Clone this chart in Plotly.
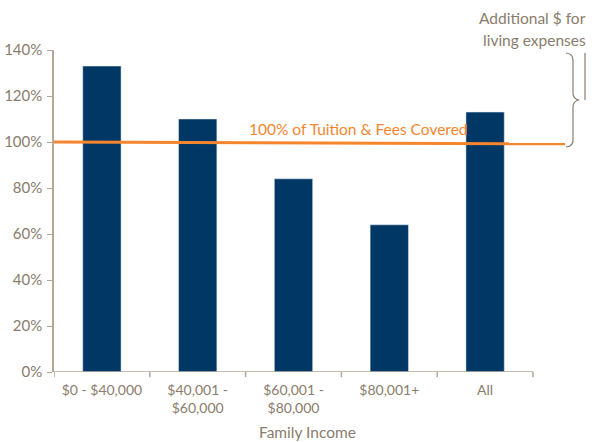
import plotly.graph_objects as go

categories = ["$0 - $40,000", "$40,001 -<br>$60,000", "$60,001 -<br>$80,000", "$80,001+", "All"]
coverage_pct = [133, 110, 84, 64, 113]
threshold_x = [-0.5, 4.834]
threshold_y = [100, 99.2]
y_ticks = [0, 20, 40, 60, 80, 100, 120, 140]
y_tick_labels = [f"{v}%" for v in y_ticks]

W, H = 596, 442
L, R, T, B = 54, 31, 50, 70
pw, ph = W - L - R, H - T - B

def px(x):
    return (x - L) / pw

def py(y):
    return (H - B - y) / ph

text_col = "#8a7c6c"
axis_col = "#b3a797"
font = "Lato, 'Open Sans', sans-serif"

fig = go.Figure()
fig.add_trace(go.Bar(x=list(range(len(categories))), y=coverage_pct, marker_color="#003764",
                     width=0.40, showlegend=False))
fig.add_trace(go.Scatter(x=threshold_x, y=threshold_y, mode="lines",
                         line=dict(color="#f5862e", width=3), showlegend=False))

path = (f"M {px(566)},{py(53)} Q {px(574)},{py(54)} {px(573)},{py(62)} "
        f"L {px(573)},{py(93)} Q {px(573)},{py(99)} {px(579)},{py(100)} "
        f"Q {px(573)},{py(101)} {px(573)},{py(107)} L {px(573)},{py(138)} "
        f"Q {px(574)},{py(146)} {px(566)},{py(147)}")
fig.add_shape(type="path", path=path, xref="paper", yref="paper",
              line=dict(color="#8a7c6c", width=1.2))
fig.add_shape(type="line", xref="paper", yref="paper", x0=px(585), x1=px(585),
              y0=py(53), y1=py(100), line=dict(color="#8a7c6c", width=1.2))
fig.add_shape(type="line", xref="x", yref="y", x0=-0.5, x1=4.5, y0=0, y1=0,
              line=dict(color=axis_col, width=1.5))

fig.add_annotation(x=px(588), y=py(18), xref="paper", yref="paper", xanchor="right",
                   yanchor="middle", text="Additional $ for", showarrow=False,
                   font=dict(size=15.5, color=text_col, family=font))
fig.add_annotation(x=px(588), y=py(40), xref="paper", yref="paper", xanchor="right",
                   yanchor="middle", text="living expenses", showarrow=False,
                   font=dict(size=15.5, color=text_col, family=font))
fig.add_annotation(x=px(358), y=py(129), xref="paper", yref="paper", xanchor="center",
                   yanchor="middle", text="100% of Tuition & Fees Covered", showarrow=False,
                   font=dict(size=15.5, color="#f5862e", family=font))
fig.add_annotation(x=px(307), y=py(432), xref="paper", yref="paper", xanchor="center",
                   yanchor="middle", text="Family Income", showarrow=False,
                   font=dict(size=15.5, color=text_col, family=font))

for i in range(6):
    fig.add_shape(type="line", xref="x", yref="paper", x0=i - 0.5, x1=i - 0.5,
                  y0=0, y1=-0.016, line=dict(color=axis_col, width=1.5))

fig.update_layout(
    width=W, height=H, margin=dict(l=L, r=R, t=T, b=B, autoexpand=False),
    plot_bgcolor="white", paper_bgcolor="white",
    font=dict(family=font, color=text_col, size=14),
    xaxis=dict(range=[-0.5, 4.834], tickmode="array", tickvals=list(range(5)),
               ticktext=categories, showline=False, showgrid=False, zeroline=False,
               ticks="", automargin=False, ticklabelstandoff=8,
               tickfont=dict(size=14, color=text_col)),
    yaxis=dict(range=[0, 140], tickvals=y_ticks, ticktext=y_tick_labels, showgrid=False,
               zeroline=False, showline=True, linecolor=axis_col, linewidth=1.5,
               ticks="outside", ticklen=5, tickcolor=axis_col, automargin=False,
               ticklabelstandoff=2,
               tickfont=dict(size=15, color=text_col)),
)

fig.write_html("out.html", config={"displayModeBar": False},
               post_script="document.body.style.margin='0';")
